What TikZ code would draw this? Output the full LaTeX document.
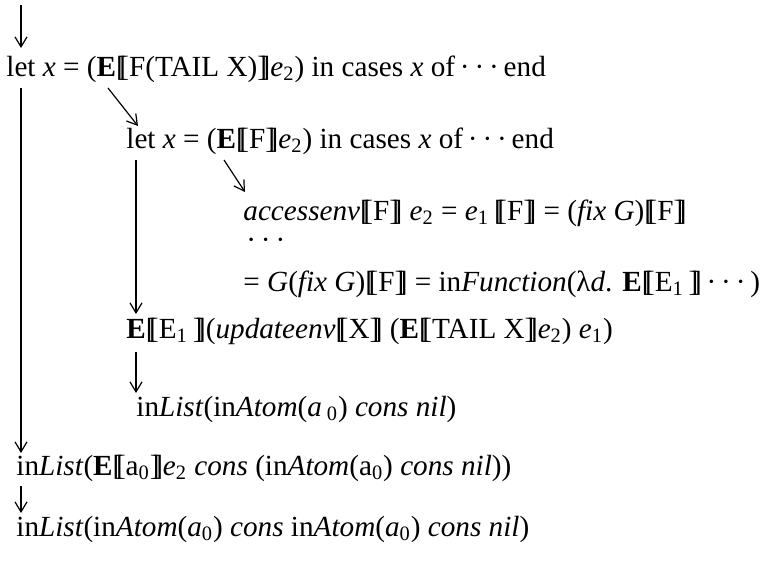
\documentclass[tikz,border=0pt]{standalone}
\usepackage{fontspec}
\setmainfont{Liberation Serif}
\usetikzlibrary{arrows.meta,calc}
\newcommand{\lsb}{[\kern-0.22em[}
\newcommand{\rsb}{]\kern-0.22em]}
\newcommand{\sub}[1]{\textsubscript{#1}}
\newcommand{\cdd}{\,·\,·\,·\,}
\begin{document}
\begin{tikzpicture}[x=0.5pt,y=-0.5pt,>={Straight Barb[length=5pt,width=6pt]},
  every node/.style={font=\fontsize{14.6}{17}\selectfont,inner sep=0pt,anchor=base west}]
  \useasboundingbox (0,0) rectangle (762,563);
  % the expressions
  \node (l1) at (6,76) {let \textit{x} = (\textbf{E}\lsb F(TAIL X)\rsb\textit{e}\sub{2}) in cases \textit{x} of\cdd end};
  \node (l2) at (126,148) {let \textit{x} = (\textbf{E}\lsb F\rsb\textit{e}\sub{2}) in cases \textit{x} of\cdd end};
  \node (l3) at (243,220) {\textit{accessenv}\lsb F\rsb{} \textit{e}\sub{2} = \textit{e}\sub{1}\,\lsb F\rsb{} = (\textit{fix G})\lsb F\rsb};
  \node (l4) at (246,249) {·\,·\,·};
  \node (l5) at (243,291) {= \textit{G}(\textit{fix G})\lsb F\rsb{} = in\textit{Function}(λ\textit{d}. \textbf{E}\lsb E\sub{1}\,\rsb\cdd)};
  \node (l6) at (126,338) {\textbf{E}\lsb E\sub{1}\,\rsb(\textit{updateenv}\lsb X\rsb{} (\textbf{E}\lsb TAIL X\rsb\textit{e}\sub{2}) \textit{e}\sub{1})};
  \node (l7) at (136,416) {in\textit{List}(in\textit{Atom}(\textit{a}\,\sub{0}) \textit{cons nil})};
  \node (l8) at (16,475) {in\textit{List}(\textbf{E}\lsb a\sub{0}\rsb\textit{e}\sub{2} \textit{cons} (in\textit{Atom}(a\sub{0}) \textit{cons nil}))};
  \node (l9) at (16,536) {in\textit{List}(in\textit{Atom}(\textit{a}\sub{0}) \textit{cons} in\textit{Atom}(\textit{a}\sub{0}) \textit{cons nil})};
  % arrow ends
  \coordinate (top) at (21,5);
  \coordinate (a1) at (21,48);  \coordinate (b1) at (21,88);  \coordinate (b2) at (21,453);
  \coordinate (c1) at (108,88); \coordinate (c2) at (138,126);
  \coordinate (d1) at (136,160); \coordinate (d2) at (136,314);
  \coordinate (e1) at (224,160); \coordinate (e2) at (245,192);
  \coordinate (f1) at (136,352); \coordinate (f2) at (136,393);
  \coordinate (g1) at (21,486);  \coordinate (g2) at (21,513);
  \foreach \s/\t in {top/a1,b1/b2,c1/c2,d1/d2,e1/e2,f1/f2,g1/g2}
    \draw[->,line width=0.6pt] (\s) -- (\t);
\end{tikzpicture}
\end{document}
